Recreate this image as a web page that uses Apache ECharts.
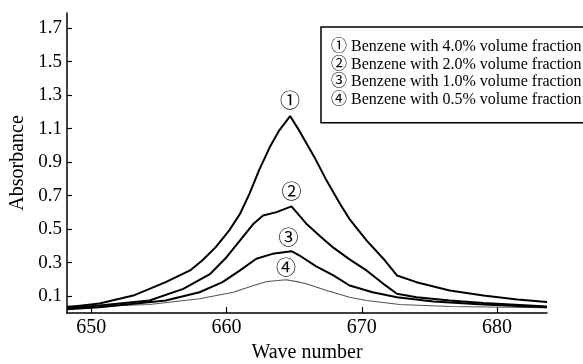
<!DOCTYPE html>
<html>
<head>
<meta charset="utf-8">
<script src="https://cdn.jsdelivr.net/npm/echarts@6/dist/echarts.min.js"></script>
<style>
html,body{margin:0;padding:0;background:#fff;}
#chart{width:583px;height:364px;}
</style>
</head>
<body>
<div id="chart"></div>
<script>
// Series names (legend text)
const seriesNames = [
  '\u2460 Benzene with 4.0% volume fraction',
  '\u2461 Benzene with 2.0% volume fraction',
  '\u2462 Benzene with 1.0% volume fraction',
  '\u2463 Benzene with 0.5% volume fraction'
];
const peakLabels = ['\u2460', '\u2461', '\u2462', '\u2463'];

// Curve 1: 4.0% (wave number, absorbance)
const curve1 = [
  [648.2,0.035],[650.6,0.057],[653.1,0.104],[655.5,0.184],[657.3,0.254],[658.2,0.313],
  [659.2,0.393],[660.2,0.493],[661.0,0.592],[661.7,0.712],[662.4,0.851],[663.2,0.990],
  [663.9,1.090],[664.7,1.175],[665.4,1.085],[666.5,0.930],[667.4,0.790],[668.4,0.650],
  [669.1,0.560],[670.35,0.433],[671.6,0.324],[672.6,0.224],[674.05,0.184],[676.5,0.134],
  [679.0,0.104],[681.5,0.081],[683.7,0.065]
];
// Curve 2: 2.0%
const curve2 = [
  [648.2,0.028],[650.6,0.045],[654.3,0.075],[656.8,0.144],[658.8,0.234],[660.0,0.333],
  [661.0,0.433],[662.0,0.533],[662.7,0.582],[663.7,0.602],[664.8,0.636],[665.9,0.533],
  [666.9,0.460],[667.9,0.390],[669.1,0.320],[670.35,0.254],[671.6,0.174],[672.6,0.115],
  [674.05,0.094],[676.5,0.075],[679.0,0.059],[683.7,0.039]
];
// Curve 3: 1.0%
const curve3 = [
  [648.2,0.022],[650.6,0.035],[655.5,0.075],[658.0,0.124],[659.7,0.184],[661.0,0.254],
  [662.2,0.324],[663.4,0.353],[664.8,0.369],[665.4,0.343],[666.6,0.280],[667.9,0.224],
  [669.1,0.164],[670.8,0.124],[672.6,0.094],[675.3,0.069],[679.0,0.051],[683.7,0.035]
];
// Curve 4: 0.5%
const curve4 = [
  [648.2,0.042],[651.0,0.042],[654.3,0.051],[658.0,0.085],[660.5,0.124],[662.0,0.164],
  [663.0,0.188],[664.4,0.198],[665.4,0.184],[665.9,0.174],[667.4,0.134],[669.1,0.094],
  [670.35,0.075],[672.8,0.051],[676.5,0.039],[683.7,0.031]
];

const xTicks = [650, 660, 670, 680];
const yTicks = [0.1, 0.3, 0.5, 0.7, 0.9, 1.1, 1.3, 1.5, 1.7];

const FONT = "'Liberation Serif', 'Times New Roman', 'Noto Sans CJK SC', serif";
const curves = [curve1, curve2, curve3, curve4];
const lineStyles = [
  {color:'#000', width:2},
  {color:'#000', width:2},
  {color:'#000', width:2},
  {color:'#555', width:1.1}
];
const labelOffsets = [[0,-1],[0,-1],[-3,1],[0,2]];

function buildData(arr, idx) {
  let pk = 0;
  arr.forEach((p, i) => { if (p[1] > arr[pk][1]) pk = i; });
  return arr.map((p, i) => {
    if (i !== pk) return p;
    return {
      value: p,
      label: {
        show: true, position: 'top', distance: 2,
        formatter: peakLabels[idx], fontSize: 20, color: '#000',
        fontFamily: FONT, offset: labelOffsets[idx]
      }
    };
  });
}

const chart = echarts.init(document.getElementById('chart'), null, {renderer: 'canvas'});
chart.setOption({
  animation: false,
  backgroundColor: '#fff',
  textStyle: {fontFamily: FONT, color: '#000'},
  grid: {left: 67, right: 36, top: 13, bottom: 51, containLabel: false, outerBoundsMode: 'none'},
  legend: {
    orient: 'vertical', left: 321, top: 27,
    icon: 'none', itemWidth: 0, itemHeight: 14, itemGap: 0,
    padding: [11, 12, 14, 5],
    borderColor: '#000', borderWidth: 1.5,
    selectedMode: false,
    textStyle: {fontFamily: FONT, fontSize: 16, color: '#000', lineHeight: 17.7},
    data: seriesNames
  },
  xAxis: {
    type: 'value', min: 648.2, max: 683.7,
    name: 'Wave number', nameLocation: 'middle', nameGap: 30,
    nameTextStyle: {fontFamily: FONT, fontSize: 20, color: '#000'},
    axisLine: {show: true, lineStyle: {color: '#000', width: 1.5}},
    axisTick: {show: true, inside: true, length: 6, customValues: xTicks, lineStyle: {color: '#000', width: 1.2}},
    axisLabel: {customValues: xTicks, fontFamily: FONT, fontSize: 20, color: '#000', margin: 5},
    splitLine: {show: false}
  },
  yAxis: {
    type: 'value', min: 0, max: 1.79,
    name: 'Absorbance', nameLocation: 'middle', nameGap: 31,
    nameTextStyle: {fontFamily: FONT, fontSize: 20, color: '#000'},
    axisLine: {show: true, lineStyle: {color: '#000', width: 1.5}},
    axisTick: {show: true, inside: true, length: 5, customValues: yTicks, lineStyle: {color: '#000', width: 1.2}},
    axisLabel: {customValues: yTicks, fontFamily: FONT, fontSize: 19, color: '#000', margin: 5,
      formatter: v => v.toFixed(1)},
    splitLine: {show: false}
  },
  series: curves.map((c, i) => ({
    name: seriesNames[i],
    type: 'line',
    data: buildData(c, i),
    showSymbol: true,
    symbol: 'circle',
    symbolSize: 0,
    smooth: false,
    lineStyle: lineStyles[i],
    itemStyle: {color: lineStyles[i].color},
    z: 4 - i
  }))
});
</script>
</body>
</html>
